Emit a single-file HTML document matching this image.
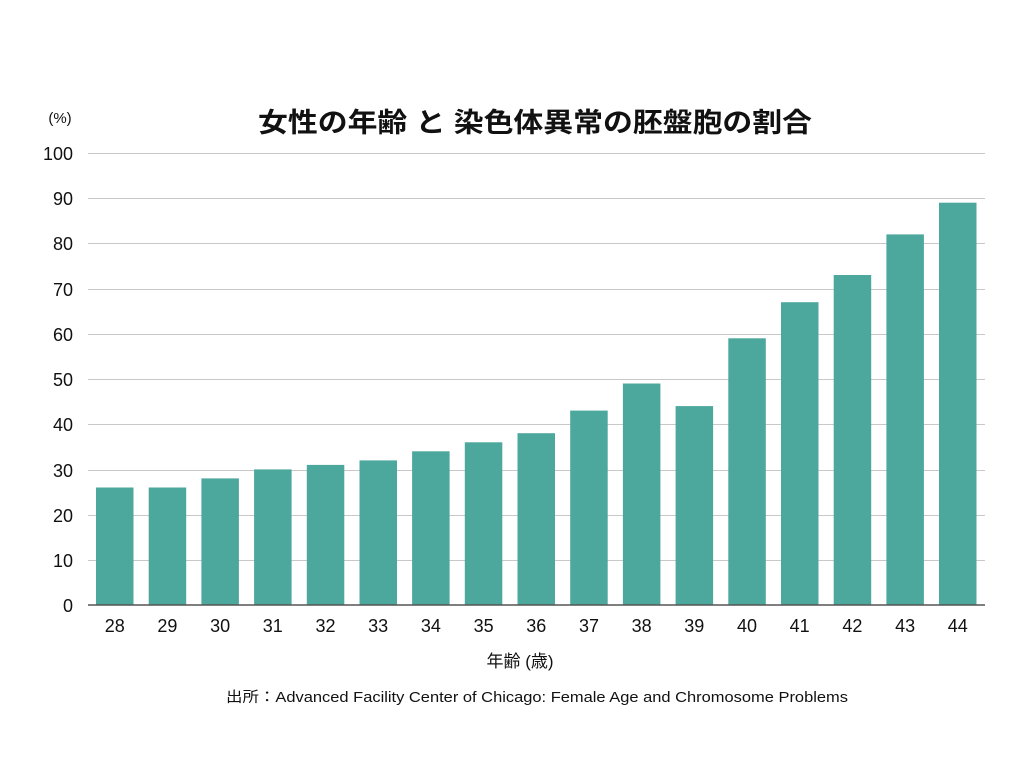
<!DOCTYPE html>
<html><head><meta charset="utf-8"><style>
html,body{margin:0;padding:0;background:#fff;}
svg{display:block;}
text{font-family:"Liberation Sans","Noto Sans CJK JP",sans-serif;fill:#111;}
</style></head><body>
<svg width="1024" height="767" viewBox="0 0 1024 767" xmlns="http://www.w3.org/2000/svg">
<rect width="1024" height="767" fill="#fff"/>
<text x="535" y="132" font-size="27" font-weight="bold" text-anchor="middle" textLength="554" lengthAdjust="spacingAndGlyphs">女性の年齢 と 染色体異常の胚盤胞の割合</text>
<text x="60" y="123" font-size="15" text-anchor="middle" fill="#333">(%)</text>
<g stroke="#c8c8c8" stroke-width="1">
<line x1="88" x2="985" y1="153.5" y2="153.5"/>
<line x1="88" x2="985" y1="198.5" y2="198.5"/>
<line x1="88" x2="985" y1="243.5" y2="243.5"/>
<line x1="88" x2="985" y1="289.5" y2="289.5"/>
<line x1="88" x2="985" y1="334.5" y2="334.5"/>
<line x1="88" x2="985" y1="379.5" y2="379.5"/>
<line x1="88" x2="985" y1="424.5" y2="424.5"/>
<line x1="88" x2="985" y1="470.5" y2="470.5"/>
<line x1="88" x2="985" y1="515.5" y2="515.5"/>
<line x1="88" x2="985" y1="560.5" y2="560.5"/>
</g>
<g font-size="18" text-anchor="end" fill="#111">
<text x="73" y="160">100</text><text x="73" y="205">90</text><text x="73" y="250">80</text>
<text x="73" y="296">70</text><text x="73" y="341">60</text><text x="73" y="386">50</text>
<text x="73" y="431">40</text><text x="73" y="477">30</text><text x="73" y="522">20</text>
<text x="73" y="567">10</text><text x="73" y="612">0</text>
</g>
<g fill="#4ca79d">
<rect x="96.0" y="487.5" width="37.5" height="117.5"/>
<rect x="148.7" y="487.5" width="37.5" height="117.5"/>
<rect x="201.4" y="478.4" width="37.5" height="126.6"/>
<rect x="254.1" y="469.4" width="37.5" height="135.6"/>
<rect x="306.8" y="464.9" width="37.5" height="140.1"/>
<rect x="359.5" y="460.4" width="37.5" height="144.6"/>
<rect x="412.1" y="451.3" width="37.5" height="153.7"/>
<rect x="464.8" y="442.3" width="37.5" height="162.7"/>
<rect x="517.5" y="433.2" width="37.5" height="171.8"/>
<rect x="570.2" y="410.6" width="37.5" height="194.4"/>
<rect x="622.9" y="383.5" width="37.5" height="221.5"/>
<rect x="675.6" y="406.1" width="37.5" height="198.9"/>
<rect x="728.3" y="338.3" width="37.5" height="266.7"/>
<rect x="781.0" y="302.2" width="37.5" height="302.8"/>
<rect x="833.7" y="275.0" width="37.5" height="330.0"/>
<rect x="886.4" y="234.4" width="37.5" height="370.6"/>
<rect x="939.0" y="202.7" width="37.5" height="402.3"/>
</g>
<line x1="88" x2="985" y1="605" y2="605" stroke="#555" stroke-width="1.5"/>
<g font-size="18" text-anchor="middle">
<text x="114.8" y="632">28</text><text x="167.4" y="632">29</text><text x="220.1" y="632">30</text>
<text x="272.8" y="632">31</text><text x="325.5" y="632">32</text><text x="378.2" y="632">33</text>
<text x="430.9" y="632">34</text><text x="483.6" y="632">35</text><text x="536.3" y="632">36</text>
<text x="589.0" y="632">37</text><text x="641.6" y="632">38</text><text x="694.3" y="632">39</text>
<text x="747.0" y="632">40</text><text x="799.7" y="632">41</text><text x="852.4" y="632">42</text>
<text x="905.1" y="632">43</text><text x="957.8" y="632">44</text>
</g>
<text x="520" y="667" font-size="17" text-anchor="middle">年齢 (歳)</text>
<text x="537" y="702" font-size="14.5" text-anchor="middle" textLength="622" lengthAdjust="spacingAndGlyphs" fill="#222">出所：Advanced Facility Center of Chicago: Female Age and Chromosome Problems</text>
</svg>
</body></html>
